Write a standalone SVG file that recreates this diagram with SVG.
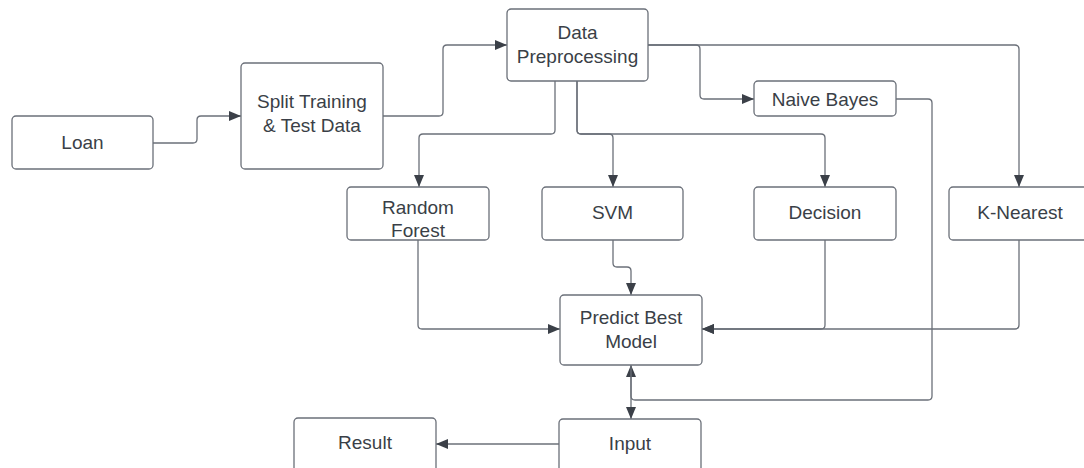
<svg xmlns="http://www.w3.org/2000/svg" width="1084" height="468" viewBox="0 0 1084 468">
  <style>
    .box { fill: #ffffff; stroke: #6b7079; stroke-width: 1.3; }
    .lbl { font-family: "Liberation Sans", Arial, sans-serif; font-size: 19px; fill: #3a3f47; text-anchor: middle; }
    .edge { fill: none; stroke: #6b7079; stroke-width: 1.3; }
    .arr { marker-end: url(#head); }
  </style>
  <defs>
    <marker id="head" viewBox="0 0 12 10" markerWidth="12" markerHeight="10" refX="12" refY="5" orient="auto" markerUnits="userSpaceOnUse">
      <path d="M0,0 L12,5 L0,10 z" fill="#3b4048"/>
    </marker>
  </defs>
  <rect width="1084" height="468" fill="#ffffff"/>

  <g id="connectors">
    <!-- Loan to Split -->
    <path class="edge arr" d="M153,143 H193 q4,0 4,-4 V120 q0,-4 4,-4 H241"/>
    <!-- Split to Data Preprocessing -->
    <path class="edge arr" d="M383,116 H439 q4,0 4,-4 V49 q0,-4 4,-4 H507"/>
    <!-- Data Preprocessing fan-out -->
    <path class="edge arr" d="M555,81 V130 q0,4 -4,4 H423 q-4,0 -4,4 V187"/>
    <path class="edge arr" d="M577,81 V130 q0,4 4,4 H609 q4,0 4,4 V187"/>
    <path class="edge arr" d="M577,81 V130 q0,4 4,4 H821 q4,0 4,4 V187"/>
    <path class="edge arr" d="M648,45 H696 q4,0 4,4 V95 q0,4 4,4 H754"/>
    <path class="edge arr" d="M648,45 H1015 q4,0 4,4 V187"/>
    <!-- Models to Predict Best Model -->
    <path class="edge arr" d="M418,240 V325 q0,4 4,4 H560"/>
    <path class="edge arr" d="M613,240 V263 q0,4 4,4 H627 q4,0 4,4 V295"/>
    <path class="edge arr" d="M825,240 V325 q0,4 -4,4 H702"/>
    <path class="edge arr" d="M1019,240 V325 q0,4 -4,4 H702"/>
    <!-- Naive Bayes loop back up to Predict Best Model -->
    <path class="edge arr" d="M896,99 H928 q4,0 4,4 V396 q0,4 -4,4 H635 q-4,0 -4,-4 V365"/>
    <!-- Predict Best Model to Input -->
    <path class="edge arr" d="M631,366 V419"/>
    <!-- Input to Result -->
    <path class="edge arr" d="M559,444 H436"/>
  </g>

  <g id="loan">
    <rect class="box" x="12" y="116" width="141" height="53" rx="4"/>
    <text class="lbl" x="82.5" y="148.5">Loan</text>
  </g>
  <g id="split">
    <rect class="box" x="241" y="63" width="142" height="106" rx="4"/>
    <text class="lbl" x="312" y="108">Split Training</text>
    <text class="lbl" x="312" y="132">&amp; Test Data</text>
  </g>
  <g id="preprocessing">
    <rect class="box" x="507" y="9" width="141" height="72" rx="4"/>
    <text class="lbl" x="577.5" y="39">Data</text>
    <text class="lbl" x="577.5" y="63">Preprocessing</text>
  </g>
  <g id="naive-bayes">
    <rect class="box" x="754" y="81" width="142" height="35" rx="4"/>
    <text class="lbl" x="825" y="106">Naive Bayes</text>
  </g>
  <g id="random-forest">
    <rect class="box" x="347" y="187" width="142" height="53" rx="4"/>
    <text class="lbl" x="418" y="214">Random</text>
    <text class="lbl" x="418" y="237">Forest</text>
  </g>
  <g id="svm">
    <rect class="box" x="542" y="187" width="141" height="53" rx="4"/>
    <text class="lbl" x="612.5" y="219">SVM</text>
  </g>
  <g id="decision">
    <rect class="box" x="754" y="187" width="142" height="53" rx="4"/>
    <text class="lbl" x="825" y="219">Decision</text>
  </g>
  <g id="k-nearest">
    <rect class="box" x="949" y="187" width="142" height="53" rx="4"/>
    <text class="lbl" x="1020" y="219">K-Nearest</text>
  </g>
  <g id="predict">
    <rect class="box" x="560" y="295" width="142" height="70" rx="4"/>
    <text class="lbl" x="631" y="324">Predict Best</text>
    <text class="lbl" x="631" y="348">Model</text>
  </g>
  <g id="input">
    <rect class="box" x="559" y="419" width="142" height="60" rx="4"/>
    <text class="lbl" x="630" y="450">Input</text>
  </g>
  <g id="result">
    <rect class="box" x="294" y="418" width="142" height="60" rx="4"/>
    <text class="lbl" x="365" y="449">Result</text>
  </g>
</svg>
